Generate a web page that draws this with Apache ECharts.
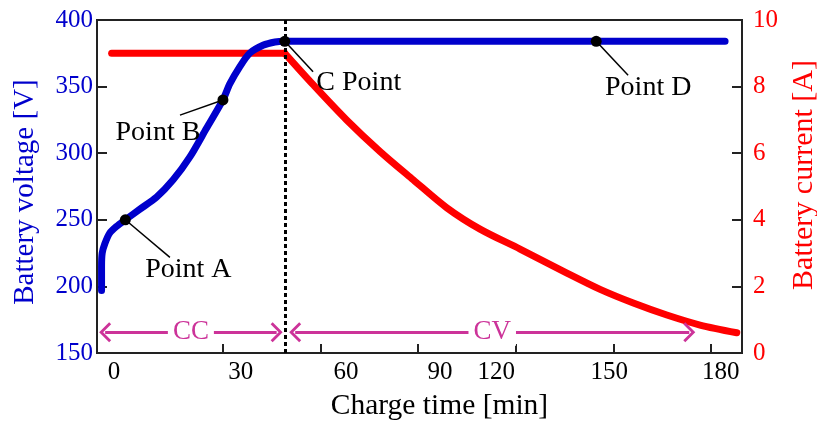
<!DOCTYPE html>
<html>
<head>
<meta charset="utf-8">
<script src="https://cdn.jsdelivr.net/npm/echarts@6/dist/echarts.min.js"></script>
<style>html,body{margin:0;padding:0;background:#fff}#c{width:817px;height:426px}</style>
</head>
<body>
<div id="c"></div>
<script>
// ---- data ----
const voltTime  = [-7.3, -7.3, -7.1, -6.3, -4.8, -2.7, 0, 4.5, 9.6, 14.7, 19.8, 24.9, 30, 32.1, 35.2, 38.2, 42.3, 46, 49, 184.3];
const voltValue = [197, 215, 225, 232, 240, 245, 250, 258, 267, 280, 297, 318.5, 340, 352, 365, 375, 381, 383.5, 384, 384];

const currTime  = [-4.2, 49, 57.8, 68.0, 78.3, 88.5, 98.8, 109.0, 121.3, 135.7, 145.9, 156.1, 166.4, 176.6, 187.9];
const currValue = [9, 9, 8.05, 7.0, 6.05, 5.2, 4.36, 3.72, 3.12, 2.40, 1.91, 1.50, 1.14, 0.84, 0.61];

const pointNames = ['Point A', 'Point B', 'C Point', 'Point D'];
const pointTime  = [0, 30, 49, 144.7];
const pointVolt  = [250, 340, 384, 384];

const switchTime = 49;           // CC -> CV transition
const ccRange = [-6.2, 46.5];
const cvRange = [52.2, 173.3];
const phaseLevel = 165.6;        // voltage level at which CC/CV arrows are drawn

const tickValues = [30, 60, 90, 120, 150, 180];
const tickLabels = ['0', '30', '60', '90', '120', '150', '180'];

// ---- build ----
const FONT = "'Liberation Serif', 'Times New Roman', serif";
const AX = '#222';
const PINK = '#cc3399';
const labelAt = [-3.5, 35.5, 67.8, 96.7, 114, 148.7, 183];
const labelOffsets = [{dx: 63, dy: 55}, {dx: -65, dy: 38}, {dx: 74, dy: 47}, {dx: 52, dy: 52}];
// leader-line end points (annotation anchors, data units)
const leaderEnds = [[13.7, 221.8], [16.8, 328.6], [57.7, 361.1], [154.5, 358.6]];
const chevron = 'path://M10,0 L20,10 L18,12 L10,4 L2,12 L0,10 Z';

function zip(a, b) { return a.map((v, i) => [v, b[i]]); }
const currData = zip(currTime, currValue);
const ccEnd = currTime.indexOf(switchTime);

function phaseLine(range, text) {
  return [
    {
      coord: [range[0], phaseLevel], symbol: chevron, symbolSize: [20, 12],
      lineStyle: {color: PINK, width: 3, type: 'solid'},
      label: {
        show: true, position: 'middle', formatter: text, color: PINK,
        fontFamily: FONT, fontSize: 27, backgroundColor: '#fff',
        padding: [0, 5], distance: 0, verticalAlign: 'middle'
      }
    },
    {coord: [range[1], phaseLevel], symbol: chevron, symbolSize: [20, 12]}
  ];
}

function leader(i) {
  return [
    {coord: [pointTime[i], pointVolt[i]], symbol: 'none',
     lineStyle: {color: '#000', width: 1.5, type: 'solid'}, label: {show: false}},
    {coord: leaderEnds[i], symbol: 'none'}
  ];
}

const chart = echarts.init(document.getElementById('c'), null, {renderer: 'canvas'});
chart.setOption({
  animation: false,
  backgroundColor: '#fff',
  grid: {
    left: 97, right: 75, top: 20, bottom: 73,
    show: true, borderColor: AX, borderWidth: 2, backgroundColor: 'transparent',
    outerBoundsMode: 'none'
  },
  xAxis: {
    type: 'value', min: -8.7, max: 189.5,
    axisLine: {show: true, onZero: false, lineStyle: {color: AX, width: 2}},
    axisTick: {show: true, inside: true, length: 9, customValues: tickValues, lineStyle: {color: AX, width: 2}},
    axisLabel: {
      customValues: labelAt, margin: 7, color: '#000', fontFamily: FONT, fontSize: 25,
      formatter: function (v) {
        let best = 0;
        for (let i = 0; i < labelAt.length; i++) {
          if (Math.abs(labelAt[i] - v) < Math.abs(labelAt[best] - v)) best = i;
        }
        return tickLabels[best];
      }
    },
    splitLine: {show: false},
    name: 'Charge time [min]', nameLocation: 'middle', nameGap: 38,
    nameTextStyle: {color: '#000', fontFamily: FONT, fontSize: 29.5, padding: [0, 0, 0, 40]}
  },
  yAxis: [
    {
      type: 'value', min: 150, max: 400, interval: 50, position: 'left',
      axisLine: {show: true, onZero: false, lineStyle: {color: AX, width: 2}},
      axisTick: {show: true, inside: true, length: 10, lineStyle: {color: AX, width: 2}},
      axisLabel: {color: '#0000cc', fontFamily: FONT, fontSize: 25, margin: 4},
      splitLine: {show: false},
      name: 'Battery voltage [V]', nameLocation: 'middle', nameRotate: 90, nameGap: 57,
      nameTextStyle: {color: '#0000cc', fontFamily: FONT, fontSize: 29, padding: [0, 11, 0, 0]}
    },
    {
      type: 'value', min: 0, max: 10, interval: 2, position: 'right',
      axisLine: {show: true, onZero: false, lineStyle: {color: AX, width: 2}},
      axisTick: {show: true, inside: true, length: 10, lineStyle: {color: AX, width: 2}},
      axisLabel: {color: '#ff0000', fontFamily: FONT, fontSize: 25, margin: 11},
      splitLine: {show: false},
      name: 'Battery current [A]', nameLocation: 'middle', nameRotate: 90, nameGap: 46,
      nameTextStyle: {color: '#ff0000', fontFamily: FONT, fontSize: 30, padding: [0, 0, 0, 23]}
    }
  ],
  series: [
    {
      name: 'Battery current (CC)', type: 'line', yAxisIndex: 1,
      data: currData.slice(0, ccEnd + 1), showSymbol: false, smooth: false,
      lineStyle: {color: '#ff0000', width: 7, cap: 'round', join: 'round'},
      z: 2
    },
    {
      name: 'Battery current (CV)', type: 'line', yAxisIndex: 1,
      data: currData.slice(ccEnd), showSymbol: false, smooth: 0.3,
      lineStyle: {color: '#ff0000', width: 7, cap: 'round', join: 'round'},
      z: 2
    },
    {
      name: 'Battery voltage', type: 'line', yAxisIndex: 0,
      data: zip(voltTime, voltValue), showSymbol: false, smooth: 0.25,
      lineStyle: {color: '#0000cc', width: 7, cap: 'round', join: 'round'},
      z: 3
    },
    {
      name: 'Points', type: 'scatter', yAxisIndex: 0,
      data: zip(pointTime, pointVolt).map((d, i) => ({value: d, name: pointNames[i]})),
      symbol: 'circle', symbolSize: 11,
      itemStyle: {color: '#000', opacity: 1},
      label: {
        show: true, position: 'top', distance: 0, formatter: '{b}', color: '#000',
        fontFamily: FONT, fontSize: 28, align: 'center', verticalAlign: 'middle',
        textBorderWidth: 0
      },
      labelLayout: function (p) { return labelOffsets[p.dataIndex]; },
      z: 5,
      markLine: {
        silent: true, animation: false, symbol: 'none', z: 4,
        data: [
          {xAxis: switchTime, symbol: 'none', lineStyle: {color: '#000', width: 3, type: [4, 3]}, label: {show: false}},
          phaseLine(ccRange, 'CC'),
          phaseLine(cvRange, 'CV'),
          leader(0), leader(1), leader(2), leader(3)
        ]
      }
    }
  ]
});
</script>
</body>
</html>
